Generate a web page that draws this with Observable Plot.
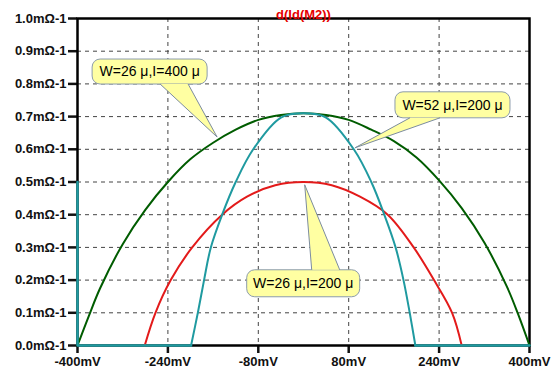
<!DOCTYPE html>
<html>
<head>
<meta charset="utf-8">
<script src="https://cdn.jsdelivr.net/npm/d3@7"></script>
<script src="https://cdn.jsdelivr.net/npm/@observablehq/plot@0.6"></script>
<style>
  html, body { margin: 0; padding: 0; background: #fff; }
  #chart svg { display: block; }
</style>
</head>
<body>
<div id="chart"></div>
<script>
// ---- data ----
const title = "d(Id(M2))";
const xTicks = [-400, -240, -80, 80, 240, 400];
const yTicks = [0, 0.1, 0.2, 0.3, 0.4, 0.5, 0.6, 0.7, 0.8, 0.9, 1.0];

// W=26u, I=400u (dark green)
const greenX = [-400, -380, -360, -320, -280, -240, -200, -160, -120, -80, -40, 0, 40, 80, 120, 160, 200, 240, 280, 320, 360, 380, 400];
const greenY = [0, 0.09, 0.175, 0.31, 0.415, 0.50, 0.57, 0.62, 0.66, 0.69, 0.705, 0.71, 0.705, 0.69, 0.66, 0.625, 0.575, 0.505, 0.42, 0.315, 0.18, 0.095, 0];

// W=26u, I=200u (red)
const redX = [-281, -262, -235, -197, -144, -100, -50, 0, 50, 100, 149, 195, 231, 263, 280];
const redY = [0, 0.1, 0.2, 0.3, 0.4, 0.455, 0.49, 0.5, 0.49, 0.455, 0.4, 0.3, 0.2, 0.1, 0];

// W=52u, I=200u (teal) - hump
const tealX = [-199, -187, -176, -164, -144, -120, -89, -40, 0, 40, 89, 120, 143, 163, 177, 188, 198];
const tealY = [0, 0.1, 0.2, 0.3, 0.4, 0.5, 0.6, 0.697, 0.71, 0.697, 0.6, 0.5, 0.4, 0.3, 0.2, 0.1, 0];
// teal - flat parts outside the hump (incl. the start spike at -400mV)
const tealFlatX = [-400, -400, -199, 198, 400];
const tealFlatY = [0.5, 0, 0, 0, 0];
const tealFlatSeg = ["a", "a", "a", "b", "b"];

// callouts: label and the trace point its pointer touches
const calloutLabels = ["W=26 \u03bc,I=400 \u03bc", "W=52 \u03bc,I=200 \u03bc", "W=26 \u03bc,I=200 \u03bc"];
const calloutTipX = [-152, 92, 3];
const calloutTipY = [0.636, 0.603, 0.49];

// ---- build tables ----
const rows = (xs, ys) => xs.map((x, i) => ({x, y: ys[i]}));
const green = rows(greenX, greenY);
const red = rows(redX, redY);
const teal = rows(tealX, tealY);
const tealFlat = tealFlatX.map((x, i) => ({x, y: tealFlatY[i], seg: tealFlatSeg[i]}));
const callouts = calloutLabels.map((label, i) => ({label, x: calloutTipX[i], y: calloutTipY[i]}));

// box layout relative to pointer tip (pixels)
const calloutLayout = [
  {dx: -125, dy: -78, w: 115, h: 25, b0: 68, b1: 96, side: "bottom"},
  {dx: 40, dy: -56, w: 115, h: 26, b0: 15, b1: 45, side: "bottom"},
  {dx: -58, dy: 85, w: 113, h: 27, b0: 65, b1: 93, side: "top"}
];

const COL_GREEN = "#005c00", COL_RED = "#e31a1a", COL_TEAL = "#1f9aa0";

function calloutMark(index, scales) {
  const g = d3.create("svg:g");
  callouts.forEach((c, i) => {
    const L = calloutLayout[i];
    const tx = scales.x(c.x), ty = scales.y(c.y);
    const bx = tx + L.dx, by = ty + L.dy;
    const baseY = L.side === "bottom" ? by + L.h : by;
    const p0 = [bx + L.b0, baseY], p1 = [bx + L.b1, baseY];
    // pointer fill
    g.append("path")
      .attr("d", `M${p0}L${tx},${ty}L${p1}Z`)
      .attr("fill", "#ffffa2").attr("stroke", "none");
    // box
    g.append("rect")
      .attr("x", bx).attr("y", by).attr("width", L.w).attr("height", L.h)
      .attr("rx", 8).attr("ry", 8)
      .attr("fill", "#ffffa2").attr("stroke", "#8c9cac").attr("stroke-width", 1);
    // cover the base of the pointer on the box edge
    g.append("path")
      .attr("d", `M${p0[0] + 0.5},${baseY}L${tx},${ty}L${p1[0] - 0.5},${baseY}Z`)
      .attr("fill", "#ffffa2").attr("stroke", "none");
    g.append("path")
      .attr("d", `M${p0}L${tx},${ty}L${p1}`)
      .attr("fill", "none").attr("stroke", "#7c8ca0").attr("stroke-width", 1);
    g.append("text")
      .attr("x", bx + L.w / 2).attr("y", by + L.h / 2)
      .attr("dy", "0.35em")
      .attr("text-anchor", "middle")
      .attr("font-family", "'Liberation Sans', Arial, sans-serif")
      .attr("font-size", 14).attr("font-weight", "normal")
      .attr("fill", "#000")
      .text(c.label);
  });
  return g.node();
}

const interiorY = yTicks.filter(v => v > 0 && v < 1);
const interiorX = xTicks.filter(v => v > -400 && v < 400);

const chart = Plot.plot({
  width: 559,
  height: 378,
  marginLeft: 77,
  marginRight: 30,
  marginTop: 18,
  marginBottom: 33,
  style: {
    fontFamily: "'Liberation Sans', Arial, sans-serif",
    fontSize: "13px",
    background: "#fff",
    color: "#111"
  },
  x: {domain: [-400, 400]},
  y: {domain: [0, 1]},
  marks: [
    Plot.gridY(interiorY, {stroke: "#444", strokeOpacity: 1, strokeDasharray: "4,4"}),
    Plot.gridX(interiorX, {stroke: "#444", strokeOpacity: 1, strokeDasharray: "4,4"}),
    Plot.axisY(yTicks, {
      tickFormat: d => d.toFixed(1) + "m\u03a9-1",
      tickSize: 9, tickPadding: 2, strokeWidth: 2.5,
      fontWeight: "bold", fontSize: 13, label: null
    }),
    Plot.axisX(xTicks, {
      tickFormat: d => d + "mV",
      tickSize: 8, tickPadding: 3, strokeWidth: 2.5,
      fontWeight: "bold", fontSize: 13, label: null
    }),
    Plot.frame({stroke: "#000", strokeWidth: 2.5}),
    Plot.line(green, {x: "x", y: "y", stroke: COL_GREEN, strokeWidth: 2, curve: "catmull-rom"}),
    Plot.line(red, {x: "x", y: "y", stroke: COL_RED, strokeWidth: 2, curve: "catmull-rom"}),
    Plot.line(tealFlat, {x: "x", y: "y", z: "seg", stroke: COL_TEAL, strokeWidth: 2.5}),
    Plot.line(teal, {x: "x", y: "y", stroke: COL_TEAL, strokeWidth: 2, curve: "catmull-rom"}),
    Plot.text([title], {frameAnchor: "top", dy: -9, fill: "#e60000", fontWeight: "bold", fontSize: 13}),
    calloutMark
  ]
});
document.getElementById("chart").append(chart);
</script>
</body>
</html>
